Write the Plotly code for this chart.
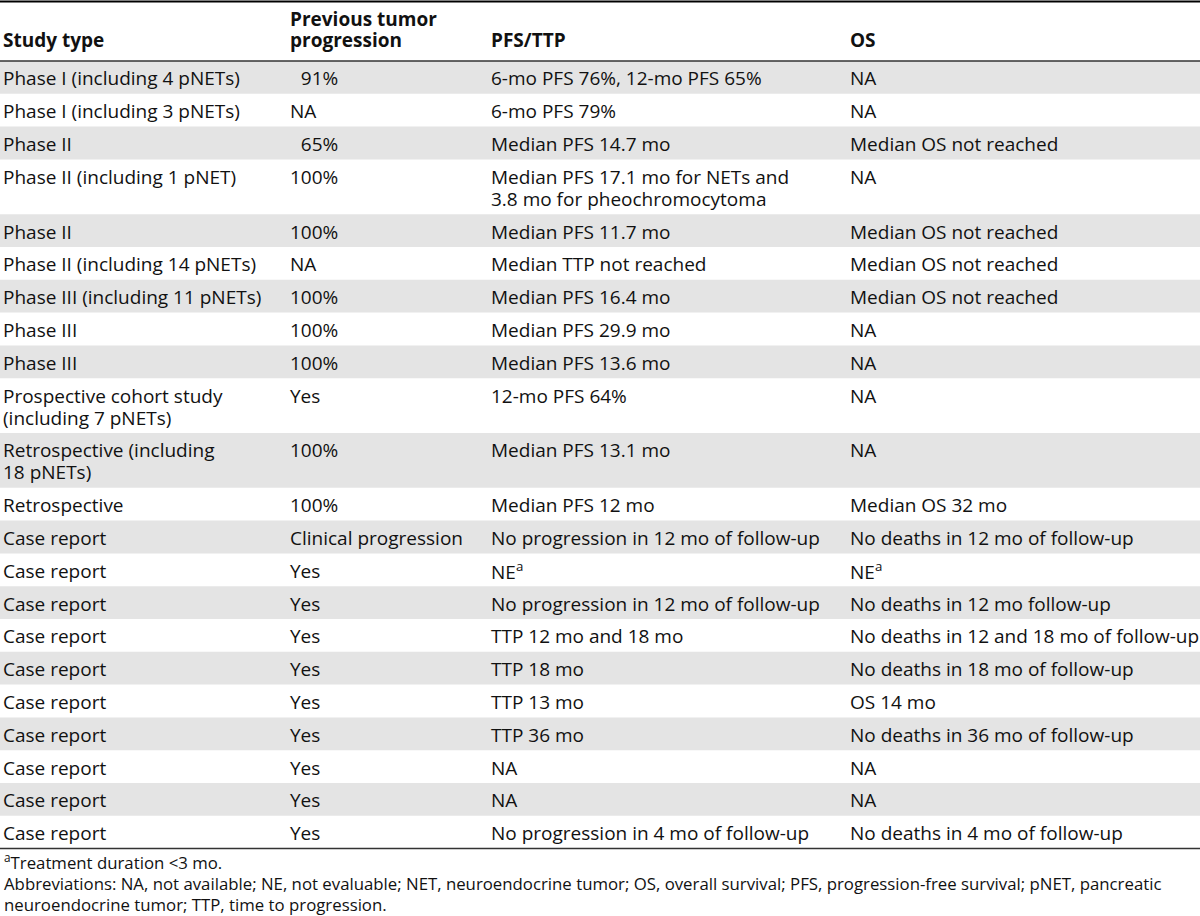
import plotly.graph_objects as go

# ---------------- data ----------------
headers = ["Study type", "Previous tumor<br>progression", "PFS/TTP", "OS"]

study_type = [
    "Phase I (including 4 pNETs)", "Phase I (including 3 pNETs)", "Phase II",
    "Phase II (including 1 pNET)", "Phase II", "Phase II (including 14 pNETs)",
    "Phase III (including 11 pNETs)", "Phase III", "Phase III",
    "Prospective cohort study<br>(including 7 pNETs)",
    "Retrospective (including<br>18 pNETs)", "Retrospective",
    "Case report", "Case report", "Case report", "Case report", "Case report",
    "Case report", "Case report", "Case report", "Case report", "Case report",
]
previous_progression = [
    "\u200791%", "NA", "\u200765%", "100%", "100%", "NA", "100%", "100%", "100%",
    "Yes", "100%", "100%", "Clinical progression",
    "Yes", "Yes", "Yes", "Yes", "Yes", "Yes", "Yes", "Yes", "Yes",
]
pfs_ttp = [
    "6-mo PFS 76%, 12-mo PFS 65%", "6-mo PFS 79%", "Median PFS 14.7 mo",
    "Median PFS 17.1 mo for NETs and<br>3.8 mo for pheochromocytoma",
    "Median PFS 11.7 mo", "Median TTP not reached", "Median PFS 16.4 mo",
    "Median PFS 29.9 mo", "Median PFS 13.6 mo", "12-mo PFS 64%",
    "Median PFS 13.1 mo", "Median PFS 12 mo",
    "No progression in 12 mo of follow-up", "NE<sup>a</sup>",
    "No progression in 12 mo of follow-up", "TTP 12 mo and 18 mo", "TTP 18 mo",
    "TTP 13 mo", "TTP 36 mo", "NA", "NA", "No progression in 4 mo of follow-up",
]
overall_survival = [
    "NA", "NA", "Median OS not reached", "NA", "Median OS not reached",
    "Median OS not reached", "Median OS not reached", "NA", "NA", "NA", "NA",
    "Median OS 32 mo", "No deaths in 12 mo of follow-up", "NE<sup>a</sup>",
    "No deaths in 12 mo follow-up", "No deaths in 12 and 18 mo of follow-up",
    "No deaths in 18 mo of follow-up", "OS 14 mo",
    "No deaths in 36 mo of follow-up", "NA", "NA", "No deaths in 4 mo of follow-up",
]
footnotes = [
    "<sup>a</sup>Treatment duration &lt;3 mo.",
    "Abbreviations: NA, not available; NE, not evaluable; NET, neuroendocrine tumor; OS, overall survival; PFS, progression-free survival; pNET, pancreatic",
    "neuroendocrine tumor; TTP, time to progression.",
]

# ---------------- layout params ----------------
W, H = 1200, 916
col_x = [1, 288, 489, 848]
FONT = "Open Sans, Lato, sans-serif"
FS = 19
FS_NOTE = 16.8
LINE = 22
ROW_H = 32.8
HEADER_TOP = 2
HEADER_BOTTOM = 61
GRAY = "#e4e4e4"
TXT = "#111111"

columns = [study_type, previous_progression, pfs_ttp, overall_survival]

shapes = []
annotations = []

def add_lines(x, y_center_first, text, size, bold=False, spacing=LINE):
    for k, line in enumerate(text.split("<br>")):
        t = f"<b>{line}</b>" if bold else line
        annotations.append(dict(
            x=x, y=y_center_first + k * spacing, xref="x", yref="y",
            text=t, showarrow=False, xanchor="left", yanchor="middle",
            font=dict(family=FONT, size=size, color=TXT), align="left",
        ))

# header
for j, h in enumerate(headers):
    n = len(h.split("<br>"))
    add_lines(col_x[j], 40 - (n - 1) * 21, h, FS, bold=True, spacing=21)

# rows
y = HEADER_BOTTOM
for i in range(len(study_type)):
    nlines = max(len(c[i].split("<br>")) for c in columns)
    h = ROW_H + (nlines - 1) * LINE
    if i % 2 == 0:
        shapes.append(dict(type="rect", xref="x", yref="y", x0=0, x1=W,
                           y0=y, y1=y + h, fillcolor=GRAY, line_width=0,
                           layer="below"))
    for j, c in enumerate(columns):
        add_lines(col_x[j], y + ROW_H / 2 + 1, c[i], FS)
    y += h
table_bottom = y

# rules
shapes.append(dict(type="line", xref="x", yref="y", x0=0, x1=W,
                   y0=HEADER_TOP - 0.5, y1=HEADER_TOP - 0.5,
                   line=dict(color="#000", width=2.2)))
shapes.append(dict(type="line", xref="x", yref="y", x0=0, x1=W,
                   y0=HEADER_BOTTOM, y1=HEADER_BOTTOM,
                   line=dict(color="#333", width=1.5)))
shapes.append(dict(type="line", xref="x", yref="y", x0=0, x1=W,
                   y0=table_bottom, y1=table_bottom,
                   line=dict(color="#333", width=1.5)))

# footnotes
for k, fn in enumerate(footnotes):
    annotations.append(dict(
        x=2, y=table_bottom + 13 + k * 21.5, xref="x", yref="y", text=fn,
        showarrow=False, xanchor="left", yanchor="middle", align="left",
        font=dict(family=FONT, size=FS_NOTE, color=TXT),
    ))

fig = go.Figure()
fig.add_trace(go.Scatter(x=[0, W], y=[0, H], mode="markers",
                         marker=dict(opacity=0), hoverinfo="skip",
                         showlegend=False))
fig.update_layout(
    width=W, height=H, margin=dict(l=0, r=0, t=0, b=0),
    paper_bgcolor="white", plot_bgcolor="white",
    xaxis=dict(range=[0, W], visible=False, fixedrange=True),
    yaxis=dict(range=[H, 0], visible=False, fixedrange=True),
    shapes=shapes, annotations=annotations, showlegend=False,
)
fig.write_html(
    "out.html", config={"displayModeBar": False},
    post_script="document.body.style.margin='0';document.body.style.overflow='hidden';",
)
